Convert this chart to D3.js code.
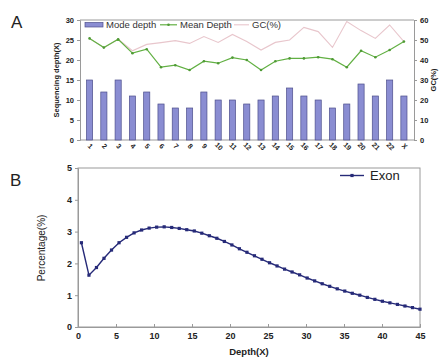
<!DOCTYPE html>
<html><head><meta charset="utf-8">
<script src="https://cdn.jsdelivr.net/npm/d3@7"></script>
<style>body{margin:0;background:#fff}svg{display:block;font-family:"Liberation Sans",Arial,sans-serif}</style>
</head><body><svg id="c" width="447" height="358"></svg>
<script>
const chromosomes = ["1","2","3","4","5","6","7","8","9","10","11","12","13","14","15","16","17","18","19","20","21","22","X"];
const modeDepth = [15,12,15,11,12,9,8,8,12,10,10,9,10,11,13,11,10,8,9,14,11,15,11];
const meanDepth = [25.4,23.1,25.2,21.7,22.7,18.2,18.7,17.5,19.7,19.2,20.6,20.0,17.5,19.7,20.4,20.4,20.7,20.2,18.2,22.3,20.7,22.5,24.6];
const gcPercent = [50.8,46.2,50.4,44.6,47.8,48.7,49.7,48.3,51.7,48.8,52.8,49.2,45.0,48.8,50.0,56.3,54.2,46.3,59.2,54.7,50.8,57.5,49.2];
const leftTicks = [0,5,10,15,20,25,30];
const rightTicks = [0,10,20,30,40,50,60];

const depthX = [0.45,1.44,2.43,3.42,4.41,5.40,6.39,7.38,8.37,9.36,10.35,11.34,12.33,13.32,14.31,15.30,16.29,17.28,18.27,19.26,20.25,21.24,22.23,23.22,24.21,25.20,26.19,27.18,28.17,29.16,30.15,31.14,32.13,33.12,34.11,35.10,36.09,37.08,38.07,39.06,40.05,41.04,42.03,43.02,44.01,45.00];
const exonPct = [2.65,1.63,1.87,2.16,2.42,2.65,2.82,2.96,3.05,3.11,3.14,3.15,3.13,3.10,3.06,3.02,2.95,2.87,2.79,2.69,2.58,2.46,2.35,2.24,2.13,2.02,1.92,1.82,1.73,1.64,1.54,1.45,1.36,1.28,1.20,1.13,1.06,1.00,0.93,0.87,0.81,0.76,0.71,0.66,0.61,0.56];
const bXTicks = [0,5,10,15,20,25,30,35,40,45];
const bYTicks = [0,1,2,3,4,5];

const svg = d3.select("#c");
const grey = "#9a9a9a";
const txt = "#222";

// ---------- Panel A ----------
const A = {l:80, r:414, t:20, b:140};
const xA = d3.scaleBand().domain(chromosomes).range([86.5,407]).paddingInner(0.57).paddingOuter(0);
const xC = c => xA(c) + xA.bandwidth()/2;
const yL = d3.scaleLinear().domain([0,30]).range([A.b,A.t]);
const yR = d3.scaleLinear().domain([0,60]).range([A.b,A.t]);

svg.append("text").attr("x",11).attr("y",28).attr("font-size",17).attr("fill",txt).text("A");

// frame
svg.append("line").attr("x1",A.l).attr("x2",A.r).attr("y1",A.t).attr("y2",A.t).attr("stroke",grey);

const gL = svg.append("g").attr("transform",`translate(${A.l},0)`)
  .call(d3.axisLeft(yL).tickValues(leftTicks).tickSize(3).tickPadding(3));
const gR = svg.append("g").attr("transform",`translate(${A.r},0)`)
  .call(d3.axisRight(yR).tickValues(rightTicks).tickSize(3).tickPadding(3));
const gB = svg.append("g").attr("transform",`translate(0,${A.b})`)
  .call(d3.axisBottom(xA).tickSize(0).tickPadding(0));
gB.select(".domain").attr("d",`M${A.l},0H${A.r}`);
[gL,gR,gB].forEach(g=>{
  g.select(".domain").attr("stroke",grey);
  g.selectAll(".tick line").attr("stroke",grey);
  g.selectAll("text").attr("font-size",7.5).attr("font-weight","bold").attr("fill",txt);
});
gB.selectAll(".tick text").attr("text-anchor","middle").attr("dy",0).attr("y",0)
  .attr("transform","translate(-1,8) rotate(45)").attr("font-size",7);

// bars
svg.append("g").selectAll("rect").data(chromosomes).join("rect")
  .attr("x",c=>xA(c)).attr("width",xA.bandwidth())
  .attr("y",(c,i)=>yL(modeDepth[i])).attr("height",(c,i)=>A.b-yL(modeDepth[i]))
  .attr("fill","#8a8dd2").attr("stroke","#4d4f8c").attr("stroke-width",0.7);

// GC line
svg.append("path").datum(chromosomes)
  .attr("d",d3.line().x(c=>xC(c)).y((c,i)=>yR(gcPercent[i])))
  .attr("fill","none").attr("stroke","#e8c6cc").attr("stroke-width",1.1);
// Mean depth line
svg.append("path").datum(chromosomes)
  .attr("d",d3.line().x(c=>xC(c)).y((c,i)=>yL(meanDepth[i])))
  .attr("fill","none").attr("stroke","#62b043").attr("stroke-width",1.2);
svg.append("g").selectAll("circle").data(chromosomes).join("circle")
  .attr("cx",c=>xC(c)).attr("cy",(c,i)=>yL(meanDepth[i])).attr("r",1.3).attr("fill","#4f9a35");

// y labels
svg.append("text").attr("transform",`translate(59,80) rotate(-90)`).attr("text-anchor","middle")
  .attr("font-size",7.5).attr("font-weight","bold").attr("fill",txt).text("Sequencing depth(X)");
svg.append("text").attr("transform",`translate(436,80) rotate(-90)`).attr("text-anchor","middle")
  .attr("font-size",7.5).attr("font-weight","bold").attr("fill",txt).text("GC(%)");

// legend A
const lg = svg.append("g");
lg.append("rect").attr("x",85).attr("y",22.5).attr("width",18).attr("height",4.5)
  .attr("fill","#8a8dd2").attr("stroke","#4d4f8c").attr("stroke-width",0.7);
lg.append("text").attr("x",106).attr("y",28).attr("font-size",9.5).attr("fill","#333").text("Mode depth");
lg.append("line").attr("x1",160).attr("x2",177).attr("y1",24.8).attr("y2",24.8).attr("stroke","#62b043").attr("stroke-width",1.2);
lg.append("circle").attr("cx",168.5).attr("cy",24.8).attr("r",1.3).attr("fill","#4f9a35");
lg.append("text").attr("x",180).attr("y",28).attr("font-size",9.5).attr("fill","#333").text("Mean Depth");
lg.append("line").attr("x1",234).attr("x2",249).attr("y1",24.8).attr("y2",24.8).attr("stroke","#e8c6cc").attr("stroke-width",1.1);
lg.append("text").attr("x",252).attr("y",28).attr("font-size",9.5).attr("fill","#333").text("GC(%)");

// ---------- Panel B ----------
const B = {l:78, r:420, t:168, b:327};
const xB = d3.scaleLinear().domain([0,45]).range([B.l,B.r]);
const yB = d3.scaleLinear().domain([0,5]).range([B.b,B.t]);

svg.append("text").attr("x",10).attr("y",186).attr("font-size",17).attr("fill",txt).text("B");

svg.append("rect").attr("x",B.l).attr("y",B.t).attr("width",B.r-B.l).attr("height",B.b-B.t)
  .attr("fill","none").attr("stroke",grey);

const gBy = svg.append("g").attr("transform",`translate(${B.l},0)`)
  .call(d3.axisLeft(yB).tickValues(bYTicks).tickSize(3).tickPadding(3).tickFormat(d3.format("d")));
const gBx = svg.append("g").attr("transform",`translate(0,${B.b})`)
  .call(d3.axisBottom(xB).tickValues(bXTicks).tickSize(-3).tickPadding(6).tickFormat(d3.format("d")));
[gBy,gBx].forEach(g=>{
  g.select(".domain").attr("stroke",grey);
  g.selectAll(".tick line").attr("stroke",grey);
  g.selectAll("text").attr("font-size",9).attr("font-weight","bold").attr("fill",txt);
});

svg.append("path").datum(depthX)
  .attr("d",d3.line().x(d=>xB(d)).y((d,i)=>yB(exonPct[i])))
  .attr("fill","none").attr("stroke","#262a78").attr("stroke-width",1.4);
svg.append("g").selectAll("rect").data(depthX).join("rect")
  .attr("x",d=>xB(d)-1.6).attr("y",(d,i)=>yB(exonPct[i])-1.6).attr("width",3.2).attr("height",3.2)
  .attr("fill","#262a78");

svg.append("text").attr("transform",`translate(45,248) rotate(-90)`).attr("text-anchor","middle")
  .attr("font-size",10).attr("fill",txt).text("Percentage(%)");
svg.append("text").attr("x",249).attr("y",355).attr("text-anchor","middle")
  .attr("font-size",9.5).attr("font-weight","bold").attr("fill",txt).text("Depth(X)");

// legend B
svg.append("line").attr("x1",340).attr("x2",364).attr("y1",175.5).attr("y2",175.5).attr("stroke","#262a78").attr("stroke-width",1.4);
svg.append("rect").attr("x",350.4).attr("y",173.9).attr("width",3.2).attr("height",3.2).attr("fill","#262a78");
svg.append("text").attr("x",370).attr("y",180).attr("font-size",13).attr("fill",txt).text("Exon");
</script></body></html>
